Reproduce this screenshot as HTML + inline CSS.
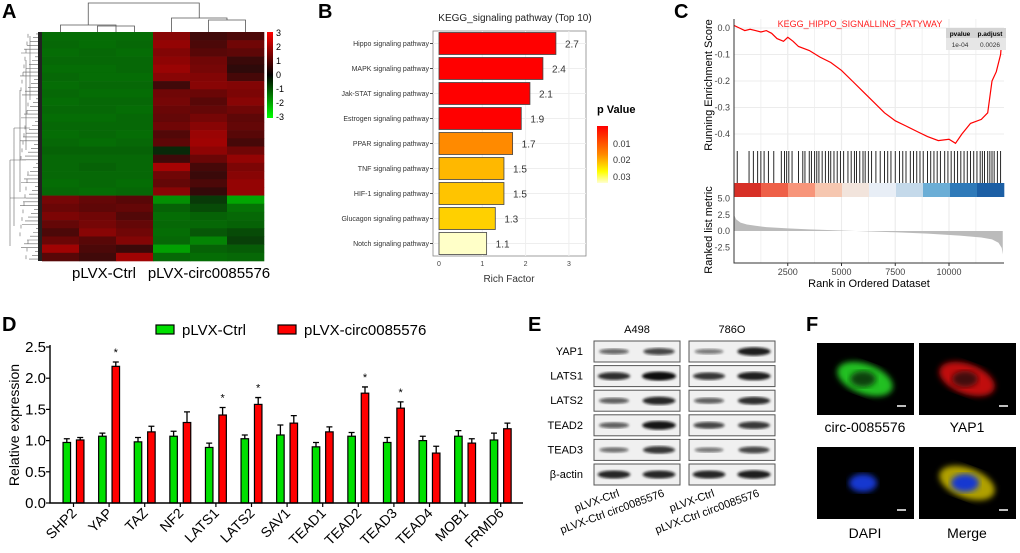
<!DOCTYPE html>
<html><head><meta charset="utf-8">
<style>
html,body{margin:0;padding:0;background:#fff;}
svg{display:block;font-family:"Liberation Sans",Arial,sans-serif;}
</style></head>
<body>
<svg id="fig" width="1020" height="553" viewBox="0 0 1020 553" xmlns="http://www.w3.org/2000/svg">
<defs>
 <linearGradient id="pgrad" x1="0" y1="0" x2="0" y2="1">
  <stop offset="0" stop-color="#ff0000"/><stop offset="0.5" stop-color="#ff8a00"/><stop offset="0.8" stop-color="#ffff00"/><stop offset="1" stop-color="#ffffd0"/>
 </linearGradient>
 <linearGradient id="hgrad" x1="0" y1="0" x2="0" y2="1">
  <stop offset="0" stop-color="#ff0000"/><stop offset="0.5" stop-color="#000000"/><stop offset="1" stop-color="#00ff00"/>
 </linearGradient>
 <filter id="blur1"><feGaussianBlur stdDeviation="1.3"/></filter>
 <filter id="blur2"><feGaussianBlur stdDeviation="3"/></filter>
</defs>
<g id="pA"></g>
<g id="pB"></g>
<g id="pC"></g>
<g id="pD"></g>
<g id="pE"></g>
<g id="pF"></g>
</svg>
<script>
// ---------- Panel A data ----------
const heatRows = [ // 6 columns, values -3..3
[-1.4,-1.4,-1.4,1.6,0.4,0.6],[-1.3,-1.4,-1.3,1.8,0.6,1.2],[-1.4,-1.3,-1.4,1.5,0.8,0.9],[-1.3,-1.3,-1.3,1.7,1.2,0.3],
[-1.4,-1.4,-1.3,1.9,1.3,0.1],[-1.3,-1.4,-1.4,1.6,1.5,0.5],[-1.4,-1.3,-1.3,0.4,1.6,1.5],[-1.3,-1.4,-1.4,1.2,1.1,1.4],
[-1.4,-1.3,-1.3,1.3,0.8,1.6],[-1.3,-1.3,-1.4,1.1,1.0,1.2],[-1.4,-1.4,-1.3,1.0,1.3,0.9],[-1.3,-1.3,-1.3,1.2,1.6,1.0],
[-1.4,-1.3,-1.4,0.7,1.9,0.8],[-1.3,-1.4,-1.3,0.9,2.0,0.5],[-1.2,-1.2,-1.2,-0.2,1.7,1.2],[-1.3,-1.3,-1.3,0.4,1.1,1.8],
[-1.3,-1.2,-1.3,2.1,0.5,1.4],[-1.3,-1.3,-1.3,1.2,0.3,1.6],[-1.4,-1.3,-1.4,1.0,0.6,1.8],[-1.3,-1.4,-1.3,1.6,0.2,1.8],
[1.3,1.0,0.8,-2.0,-0.5,-2.4],[1.1,0.9,1.0,-1.2,-0.8,-1.5],[1.4,1.2,0.7,-1.4,-1.2,-1.3],[1.0,1.3,1.0,-1.3,-1.3,-1.2],
[0.6,1.6,1.2,-1.4,-1.0,-0.8],[1.1,0.8,1.5,-1.3,-1.8,-0.6],[2.0,0.6,0.3,-2.3,-1.2,-1.1],[0.8,0.4,2.0,-1.3,-1.4,-1.3]
];
// ---------- Panel B data ----------
const pathways = ["Hippo signaling pathway","MAPK signaling pathway","Jak-STAT signaling pathway","Estrogen signaling pathway","PPAR signaling pathway","TNF signaling pathway","HIF-1 signaling pathway","Glucagon signaling pathway","Notch signaling pathway"];
const richFactor = [2.7,2.4,2.1,1.9,1.7,1.5,1.5,1.3,1.1];
const pathwayColors = ["#ff0000","#ff0000","#ff0000","#ff0000","#ff8a00","#ffb800","#ffc400","#ffd000","#ffffc8"];
const richTicks = [0,1,2,3];
// ---------- Panel C data ----------
const esRanks = [0,250,500,750,1000,1250,1500,1750,2000,2300,2500,2750,3000,3500,4000,4500,5000,5500,6000,6500,7000,7500,8000,8500,9000,9500,10000,10300,10600,11000,11500,11800,12000,12200,12400,12500];
const esValues = [0.01,0.0,-0.01,-0.005,-0.01,-0.015,-0.01,-0.02,-0.04,-0.05,-0.035,-0.05,-0.07,-0.085,-0.11,-0.13,-0.16,-0.2,-0.24,-0.28,-0.32,-0.35,-0.37,-0.39,-0.41,-0.425,-0.42,-0.435,-0.4,-0.36,-0.345,-0.32,-0.2,-0.165,-0.1,0.0];
const hitRanks = [150,700,900,1100,1250,1400,1600,1850,2200,2350,2450,2550,2700,3000,3200,3300,3500,3600,3750,3850,3950,4100,4250,4400,4500,4650,4800,4950,5100,5300,5450,5600,5700,5850,6000,6100,6250,6400,6600,6800,7000,7150,7300,7500,7700,7850,8000,8200,8350,8500,8650,8800,9000,9150,9300,9450,9600,9800,9950,10100,10250,10400,10550,10700,10850,11000,11150,11300,11450,11550,11650,11800,11900,12000,12100,12250,12400];
const metricRanks = [0,100,300,600,1000,1500,2500,3500,5000,6000,7500,9000,10500,11500,12000,12300,12450,12500];
const metricValues = [2.5,1.8,1.3,1.0,0.8,0.6,0.4,0.25,0.08,-0.05,-0.2,-0.4,-0.7,-1.0,-1.3,-1.8,-2.6,-3.6];
const bandColors = ["#d73027","#ee6048","#f7957a","#f6c7b0","#f2e4dc","#e8eef6","#c4d9ea","#6baed6","#2f7ab9","#1c5fa5"];
const rankTicks = [2500,5000,7500,10000];
const esTicks = [0,-0.1,-0.2,-0.3,-0.4];
const metricTicks = [5,2.5,0,-2.5];
// ---------- Panel D data ----------
const genes = ["SHP2","YAP","TAZ","NF2","LATS1","LATS2","SAV1","TEAD1","TEAD2","TEAD3","TEAD4","MOB1","FRMD6"];
const ctrlVals = [0.97,1.07,0.98,1.07,0.89,1.03,1.09,0.90,1.07,0.97,1.00,1.07,1.01];
const ctrlErr = [0.06,0.05,0.07,0.08,0.07,0.06,0.16,0.07,0.06,0.08,0.07,0.09,0.11];
const circVals = [1.01,2.19,1.14,1.29,1.41,1.58,1.28,1.14,1.76,1.52,0.80,0.96,1.19];
const circErr = [0.04,0.07,0.09,0.17,0.12,0.11,0.12,0.08,0.10,0.10,0.11,0.07,0.09];
const starred = [false,true,false,false,true,true,false,false,true,true,false,false,false];
const dTicks = [0,0.5,1.0,1.5,2.0,2.5];
// ---------- Panel E data ----------
const blotProteins = ["YAP1","LATS1","LATS2","TEAD2","TEAD3","β-actin"];
const bandA498 = [[0.45,0.65],[0.8,1.0],[0.5,0.85],[0.5,0.95],[0.4,0.75],[0.85,0.85]];
const band786O = [[0.35,0.9],[0.75,0.9],[0.5,0.8],[0.65,0.75],[0.35,0.65],[0.85,0.9]];

const NS="http://www.w3.org/2000/svg";
function el(parent,tag,attrs,text){const e=document.createElementNS(NS,tag);for(const k in attrs)e.setAttribute(k,attrs[k]);if(text!==undefined)e.textContent=text;parent.appendChild(e);return e;}

// ========== Panel A ==========
(function(){
 const g=document.getElementById('pA');
 const lab=el(g,'text',{x:2,y:18,'font-size':20,'font-weight':'bold'},'A');
 
 
 const x0=42,x1=264,y0=32,y1=261;
 const cw=(x1-x0)/6, rh=(y1-y0)/heatRows.length;
 function col(v){const t=Math.max(-1,Math.min(1,v/3));
  if(t>=0){return `rgb(${Math.round(40+180*t)},${Math.round(10*(1-t))},${Math.round(10*(1-t))})`;} return `rgb(${Math.round(10*(1+t))},${Math.round(30+170*-t)},${Math.round(10*(1+t))})`;}
 heatRows.forEach((row,i)=>row.forEach((v,j)=>{
  const r=el(g,'rect',{x:x0+j*cw,y:y0+i*rh,width:cw+0.3,height:rh+0.3,fill:col(v)});
  
  
 }));
 const s='#555';
 const colX=j=>x0+cw*(j+0.5);
 el(g,'path',{d:`M${colX(0)} 32 V25 H${(colX(1)+colX(2))/2} V32 M${colX(1)} 32 V26 H${colX(2)} V32 M${(colX(0)+(colX(1)+colX(2))/2)/2} 25 V3 H${(colX(3)+(colX(4)+colX(5))/2)/2} V18 M${colX(3)} 32 V18 H${(colX(4)+colX(5))/2} V20 M${colX(4)} 32 V20 H${colX(5)} V32`,fill:'none',stroke:s,'stroke-width':0.8,});
 let d='';
 const n=60;
 for(let i=0;i<n;i++){const y=y0+(i+0.5)*(y1-y0)/n;const w=6+((i*37)%17);d+=`M42 ${y} H${42-w} `;}
 for(let i=0;i<n;i+=2){const ya=y0+(i+0.5)*(y1-y0)/n,yb=y0+(i+1.5)*(y1-y0)/n;const w=14+((i*23)%9);d+=`M${42-w} ${ya} V${yb} `;}
 d+=`M30 36 V100 M26 60 V150 M20 90 V192 M14 128 V226 M10 160 V246 M10 198 H42 M10 160 H26 M14 128 H30`;
 el(g,'path',{d:d,fill:'none',stroke:'#666','stroke-width':0.6,});
 el(g,'rect',{x:38,y:32,width:4,height:229,fill:'#222',});
 el(g,'rect',{x:267,y:32,width:6,height:86,fill:'url(#hgrad)',});
 [3,2,1,0,-1,-2,-3].forEach((v,i)=>{const t=el(g,'text',{x:276,y:36+i*14,'font-size':9},String(v));
  
  });
 el(g,'text',{x:104,y:278,'font-size':15,'text-anchor':'middle',},'pLVX-Ctrl');
 el(g,'text',{x:209,y:278,'font-size':15,'text-anchor':'middle',},'pLVX-circ0085576');
})();

// ========== Panel B ==========
(function(){
 const g=document.getElementById('pB');
 el(g,'text',{x:318,y:18,'font-size':20,'font-weight':'bold',},'B');
 el(g,'text',{x:515,y:21,'font-size':10,'text-anchor':'middle','fill':'#222',},'KEGG_signaling pathway (Top 10)');
 const px0=433,px1=586,py0=31,py1=256;
 const xs=v=>439+v*43.3;
 el(g,'rect',{x:px0,y:py0,width:px1-px0,height:py1-py0,fill:'#fff',stroke:'#888','stroke-width':0.8,});
 richTicks.forEach(t=>{el(g,'line',{x1:xs(t),x2:xs(t),y1:py0,y2:py1,stroke:'#eee','stroke-width':1});
  const tl=el(g,'text',{x:xs(t),y:266,'font-size':7,'text-anchor':'middle',fill:'#444'},String(t));
  
  });
 const band=(py1-py0)/pathways.length;
 pathways.forEach((p,i)=>{const cy=py0+band*(i+0.5);
  el(g,'line',{x1:px0,x2:px1,y1:cy,y2:cy,stroke:'#eee'});
  const r=el(g,'rect',{x:xs(0),y:cy-11,width:xs(richFactor[i])-xs(0),height:22,fill:pathwayColors[i],stroke:'#444','stroke-width':0.8});
  
  
  const l=el(g,'text',{x:429,y:cy+2.5,'font-size':7,'text-anchor':'end',fill:'#333'},p);
  
  
  el(g,'line',{x1:430,x2:433,y1:cy,y2:cy,stroke:'#444'});
  const v=el(g,'text',{x:xs(richFactor[i])+16,y:cy+4,'font-size':10,'text-anchor':'middle',fill:'#333'},richFactor[i].toFixed(1));
  
  
 });
 el(g,'text',{x:509,y:282,'font-size':10,'text-anchor':'middle',fill:'#333',},'Rich Factor');
 el(g,'text',{x:597,y:113,'font-size':11,'font-weight':'bold',},'p Value');
 el(g,'rect',{x:597,y:126,width:11,height:57,fill:'url(#pgrad)',});
 [['0.01',147],['0.02',163],['0.03',180]].forEach(a=>{const t=el(g,'text',{x:613,y:a[1],'font-size':9,fill:'#333'},a[0]);
  
  });
})();

// ========== Panel C ==========
(function(){
 const g=document.getElementById('pC');
 el(g,'text',{x:674,y:18,'font-size':20,'font-weight':'bold',},'C');
 const xL=734,xR=1004;
 const xr=r=>734+r*0.0215;
 const ye=v=>28+(-v)*265;
 const ym=v=>231-v*6.5;
 el(g,'rect',{x:xL,y:19,width:xR-xL,height:244,fill:'#fff'});
 for(let r=1250;r<12500;r+=1250){el(g,'line',{x1:xr(r),x2:xr(r),y1:19,y2:150,stroke:'#ececec','stroke-width':r%2500===0?1.2:0.7});el(g,'line',{x1:xr(r),x2:xr(r),y1:197,y2:263,stroke:'#ececec','stroke-width':r%2500===0?1.2:0.7});}
 esTicks.forEach(t=>{el(g,'line',{x1:xL,x2:xR,y1:ye(t),y2:ye(t),stroke:'#ececec'});
  const tl=el(g,'text',{x:730,y:ye(t)+3,'font-size':9,'text-anchor':'end',fill:'#444'},t===0?'0.0':t.toFixed(1));
  
  });
 let d=esRanks.map((r,i)=>(i?'L':'M')+xr(r).toFixed(1)+' '+ye(esValues[i]).toFixed(1)).join(' ');
 const line=el(g,'path',{d:d,fill:'none',stroke:'#ff0000','stroke-width':1.2});
 
 
 el(g,'text',{x:860,y:27,'font-size':9,fill:'#ff2020','text-anchor':'middle',},'KEGG_HIPPO_SIGNALLING_PATYWAY');
 el(g,'rect',{x:946,y:28,width:60,height:22,fill:'#e6e6e6',});
 el(g,'rect',{x:946,y:28,width:60,height:10,fill:'#d4d4d4'});
 el(g,'text',{x:960,y:36,'font-size':6.5,'font-weight':'bold','text-anchor':'middle'},'pvalue');
 el(g,'text',{x:990,y:36,'font-size':6.5,'font-weight':'bold','text-anchor':'middle'},'p.adjust');
 el(g,'text',{x:960,y:47,'font-size':6.5,'text-anchor':'middle',fill:'#333'},'1e-04');
 el(g,'text',{x:990,y:47,'font-size':6.5,'text-anchor':'middle',fill:'#333'},'0.0026');
 hitRanks.forEach(r=>{const h=el(g,'line',{x1:xr(r),x2:xr(r),y1:151,y2:183,stroke:'#111','stroke-width':0.9});
  
  });
 const bw=(xR-xL)/bandColors.length;
 bandColors.forEach((c,i)=>{const b=el(g,'rect',{x:xL+i*bw,y:183,width:bw+0.3,height:14,fill:c});
  
  });
 let dm=`M${xr(0)} ${ym(0)} `+metricRanks.map((r,i)=>`L${xr(r).toFixed(1)} ${ym(metricValues[i]).toFixed(1)}`).join(' ')+` L${xr(12500)} ${ym(0)} Z`;
 const area=el(g,'path',{d:dm,fill:'#bbbbbb'});
 
 
 metricTicks.forEach(t=>{const tl=el(g,'text',{x:730,y:ym(t)+3,'font-size':9,'text-anchor':'end',fill:'#444'},t.toFixed(1));
  
  });
 el(g,'path',{d:`M${xL} 19 V263 H${xR}`,fill:'none',stroke:'#333','stroke-width':1});
 rankTicks.forEach(t=>{el(g,'line',{x1:xr(t),x2:xr(t),y1:263,y2:266,stroke:'#333'});
  const tl=el(g,'text',{x:xr(t),y:275,'font-size':9,'text-anchor':'middle',fill:'#444'},String(t));
  
  });
 el(g,'text',{x:0,y:0,'font-size':11,'text-anchor':'middle',transform:'translate(712,85) rotate(-90)',},'Running Enrichment Score');
 el(g,'text',{x:0,y:0,'font-size':11,'text-anchor':'middle',transform:'translate(712,230) rotate(-90)',},'Ranked list metric');
 el(g,'text',{x:869,y:287,'font-size':11,'text-anchor':'middle',},'Rank in Ordered Dataset');
})();

// ========== Panel D ==========
(function(){
 const g=document.getElementById('pD');
 el(g,'text',{x:2,y:331,'font-size':20,'font-weight':'bold',},'D');
 const y=v=>503-v*62.4;
 const cx=i=>73.5+i*35.6;
 const bw=7.5;
 dTicks.forEach(t=>{el(g,'line',{x1:46,x2:50,y1:y(t),y2:y(t),stroke:'#000','stroke-width':1.2});
  const tl=el(g,'text',{x:46,y:y(t)+5,'font-size':15,'text-anchor':'end'},t.toFixed(1));
  
  });
 function bar(i,v,e,dx,color,name){const x=cx(i)+dx-bw/2;
  const top=y(v+e);
  el(g,'path',{d:`M${x+bw/2} ${y(v)} V${top} M${x+bw/2-3} ${top} H${x+bw/2+3}`,stroke:'#000','stroke-width':1.3,fill:'none'});
  const r=el(g,'rect',{x:x,y:y(v),width:bw,height:y(0)-y(v),fill:color,stroke:'#000','stroke-width':1.2});
  
  
 }
 genes.forEach((gn,i)=>{
  bar(i,ctrlVals[i],ctrlErr[i],-6.7,'#00e000','bar-ctrl-'+gn.toLowerCase());
  bar(i,circVals[i],circErr[i],6.7,'#ff0000','bar-circ-'+gn.toLowerCase());
  if(starred[i]){const s=el(g,'text',{x:cx(i)+6.7,y:y(circVals[i]+circErr[i])-6,'font-size':11,'text-anchor':'middle'},'*');
   
   }
  el(g,'line',{x1:cx(i),x2:cx(i),y1:503,y2:507,stroke:'#000','stroke-width':1.2});
  const l=el(g,'text',{x:0,y:0,'font-size':14,'text-anchor':'end',transform:`translate(${cx(i)+4},${514}) rotate(-45)`},gn);
  
  
 });
 el(g,'path',{d:'M50 345 V503 H523',stroke:'#000','stroke-width':1.4,fill:'none',});
 el(g,'text',{x:0,y:0,'font-size':14,'text-anchor':'middle',transform:'translate(19,425) rotate(-90)',},'Relative expression');
 el(g,'rect',{x:156,y:325,width:18,height:9,fill:'#00e000',stroke:'#000','stroke-width':1.2,});
 el(g,'text',{x:182,y:335,'font-size':15,},'pLVX-Ctrl');
 el(g,'rect',{x:278,y:325,width:18,height:9,fill:'#ff0000',stroke:'#000','stroke-width':1.2,});
 el(g,'text',{x:304,y:335,'font-size':15,},'pLVX-circ0085576');
})();

// ========== Panel E ==========
(function(){
 const g=document.getElementById('pE');
 el(g,'text',{x:528,y:331,'font-size':20,'font-weight':'bold',},'E');
 el(g,'text',{x:637,y:333,'font-size':11,'text-anchor':'middle',},'A498');
 el(g,'text',{x:732,y:333,'font-size':11,'text-anchor':'middle',},'786O');
 const boxes=[[594,bandA498],[689,band786O]];
 blotProteins.forEach((p,i)=>{const y0=341+i*24.6;
  const t=el(g,'text',{x:583,y:y0+14,'font-size':11,'text-anchor':'end'},p);
  
  
  boxes.forEach(([bx,data])=>{
   const r=el(g,'rect',{x:bx,y:y0,width:86,height:21,fill:'#f0f0f0',stroke:'#555','stroke-width':1});
   
   
   data[i].forEach((v,k)=>{const e=el(g,'ellipse',{cx:bx+(k?65:20),cy:y0+10.5,rx:13+4*v,ry:1.5+3*v,fill:'#111','fill-opacity':Math.min(1,0.3+0.7*v),filter:'url(#blur1)'});
    
    });
  });
 });
 [[620,'pLVX-Ctrl'],[665,'pLVX-Ctrl circ0085576'],[715,'pLVX-Ctrl'],[760,'pLVX-Ctrl circ0085576']].forEach(a=>{
  const t=el(g,'text',{x:0,y:0,'font-size':11,'text-anchor':'end',transform:`translate(${a[0]},496) rotate(-20)`},a[1]);
  
  });
})();

// ========== Panel F ==========
(function(){
 const g=document.getElementById('pF');
 el(g,'text',{x:806,y:331,'font-size':20,'font-weight':'bold',},'F');
 const imgs=[[817,343,'circ-0085576','green'],[919,343,'YAP1','red'],[817,447,'DAPI','blue'],[919,447,'Merge','merge']];
 imgs.forEach(([x,y,lab,kind])=>{
  const r=el(g,'rect',{x:x,y:y,width:97,height:72,fill:'#000'});
  
  
  const cx=x+48,cy=y+36;
  if(kind==='green'||kind==='merge'){el(g,'ellipse',{cx:cx,cy:cy,rx:29,ry:15,fill:kind==='merge'?'#b0a000':'#20c020',filter:'url(#blur2)',transform:`rotate(20 ${cx} ${cy})`});}
  if(kind==='red'){el(g,'ellipse',{cx:cx,cy:cy,rx:29,ry:15,fill:'#c01010',filter:'url(#blur2)',transform:`rotate(20 ${cx} ${cy})`});}
  if(kind==='green'){el(g,'ellipse',{cx:cx-2,cy:cy,rx:13,ry:8,fill:'#0a400a',filter:'url(#blur2)'});}
  if(kind==='red'){el(g,'ellipse',{cx:cx-2,cy:cy,rx:13,ry:8,fill:'#401010',filter:'url(#blur2)'});}
  if(kind==='blue'||kind==='merge'){el(g,'ellipse',{cx:cx-2,cy:cy,rx:14,ry:9,fill:'#1838d0',filter:'url(#blur2)'});}
  el(g,'line',{x1:x+80,x2:x+89,y1:y+63,y2:y+63,stroke:'#fff','stroke-width':1.5});
  const t=el(g,'text',{x:cx,y:y+(y<400?89:91),'font-size':14,'text-anchor':'middle'},lab);
  
  
 });
})();
</script>
</body></html>
